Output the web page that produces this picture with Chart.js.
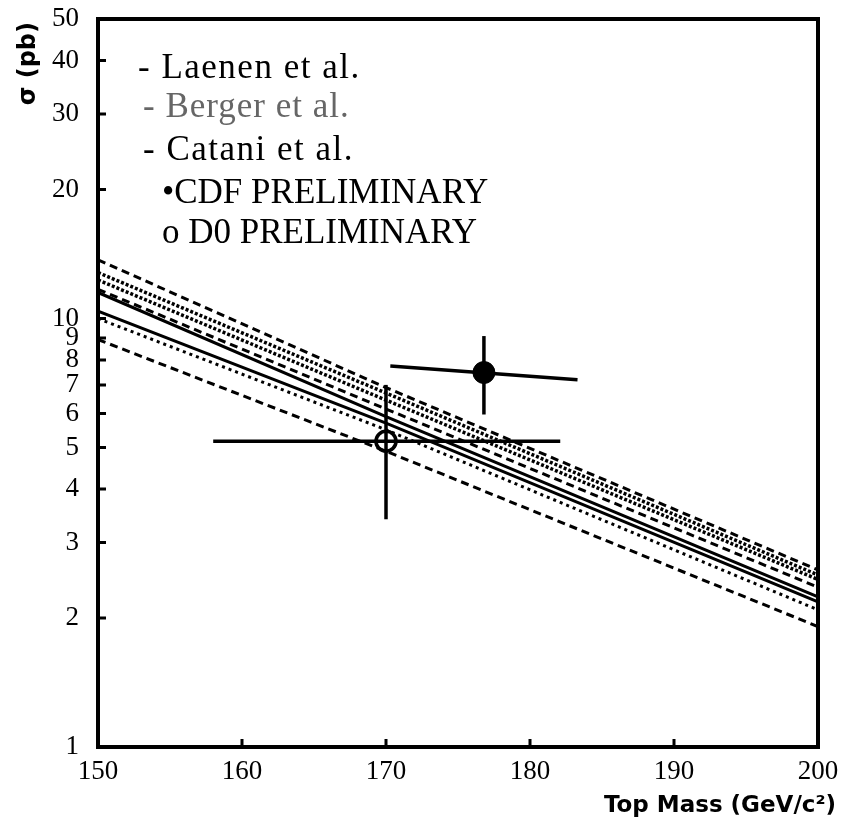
<!DOCTYPE html>
<html>
<head>
<meta charset="utf-8">
<script src="https://cdn.jsdelivr.net/npm/chart.js@4.4.1/dist/chart.umd.min.js"></script>
<style>
  html, body { margin: 0; padding: 0; background: #fff; }
  #wrap { width: 844px; height: 821px; }
</style>
</head>
<body>
<div id="wrap"><canvas id="xsec_chart" width="844" height="821"></canvas></div>
<script>
// top mass points where the theory curves were read
let masses = [150, 170, 200];

// theory curves (pb)
let laenenHi = [13.7, 6.9, 2.59];
let laenenMid = [11.7, 6.15, 2.36];
let laenenLo = [8.93, 4.9, 1.91];
let bergerHi = [12.8, 6.7, 2.52];
let bergerMid = [12.3, 6.45, 2.46];
let bergerLo = [10.0, 5.5, 2.09];
let cataniHi = [11.5, 5.9, 2.24];
let cataniLo = [10.4, 5.7, 2.18];

// measurements: [mass, sigma]
let cdfPoint = [176.8, 7.48];
let cdfMassBar = [[170.3, 7.75], [183.3, 7.2]];
let cdfSigmaBar = [5.97, 9.1];
let d0Point = [170.0, 5.17];
let d0MassBar = [158.0, 182.1];
let d0SigmaBar = [3.4, 7.0];

let xTicks = [150, 160, 170, 180, 190, 200];
let yTicks = [1, 2, 3, 4, 5, 6, 7, 8, 9, 10, 20, 30, 40, 50];

let legendLines = [
    { text: '- Laenen et al.', dx: 40, y: 78, color: '#000', spacing: 1.5 },
    { text: '- Berger et al.', dx: 45, y: 117, color: '#666', spacing: 1 },
    { text: '- Catani et al.', dx: 45, y: 160, color: '#000', spacing: 1.5 },
    { text: '\u2022CDF PRELIMINARY', dx: 64, y: 203, color: '#000', spacing: 0 },
    { text: 'o D0 PRELIMINARY', dx: 64, y: 243, color: '#000', spacing: 0 }
];

function toPoints(arr) {
    return masses.map(function (m, i) { return { x: m, y: arr[i] }; });
}

function curve(arr, dash, width) {
    return {
        data: toPoints(arr),
        borderColor: '#000',
        borderWidth: width,
        borderDash: dash,
        pointRadius: 0,
        tension: 0,
        fill: false
    };
}

function bar(points) {
    return {
        data: points,
        borderColor: '#000',
        borderWidth: 3.5,
        pointRadius: 0,
        fill: false
    };
}

//=======================================================//
let frameAndText = {
    id: 'frameAndText',
    afterDraw: function (chart) {
        let ctx = chart.ctx;
        let a = chart.chartArea;
        let xs = chart.scales.x;
        let ys = chart.scales.y;
        ctx.save();

        // frame
        ctx.strokeStyle = '#000';
        ctx.lineWidth = 4;
        ctx.strokeRect(a.left, a.top, a.right - a.left, a.bottom - a.top);

        // inward ticks
        ctx.lineWidth = 3;
        ctx.beginPath();
        yTicks.forEach(function (v) {
            if (v === 1 || v === 50) return;
            let py = ys.getPixelForValue(v);
            ctx.moveTo(a.left, py);
            ctx.lineTo(a.left + 8, py);
        });
        xTicks.forEach(function (v) {
            if (v === 150 || v === 200) return;
            let px = xs.getPixelForValue(v);
            ctx.moveTo(px, a.bottom);
            ctx.lineTo(px, a.bottom - 8);
        });
        ctx.stroke();

        // legend
        ctx.font = '35px "Liberation Serif"';
        ctx.textBaseline = 'alphabetic';
        ctx.textAlign = 'left';
        legendLines.forEach(function (l) {
            ctx.fillStyle = l.color;
            ctx.letterSpacing = l.spacing + 'px';
            ctx.fillText(l.text, a.left + l.dx, l.y);
        });
        ctx.letterSpacing = '0px';

        // axis titles
        ctx.fillStyle = '#000';
        ctx.font = 'bold 23px "DejaVu Sans"';
        ctx.textAlign = 'right';
        ctx.fillText('Top Mass (GeV/c\u00b2)', 836, 812);

        ctx.translate(35, 22);
        ctx.rotate(-Math.PI / 2);
        ctx.textAlign = 'right';
        ctx.font = 'bold 24px "DejaVu Sans"';
        ctx.fillText('\u03c3 (pb)', 0, 0);
        ctx.restore();
    }
};

function showCrossSection() {
    let ctx = document.getElementById('xsec_chart').getContext('2d');

    let datasets = [
        curve(laenenHi, [8, 5], 3),
        curve(laenenMid, [8, 5], 3),
        curve(laenenLo, [8, 5], 3),
        curve(bergerHi, [3, 2], 3.5),
        curve(bergerMid, [3, 2], 3.5),
        curve(bergerLo, [3, 4], 3),
        curve(cataniHi, [], 3),
        curve(cataniLo, [], 3),
        bar(cdfMassBar.map(function (p) { return { x: p[0], y: p[1] }; })),
        bar(cdfSigmaBar.map(function (s) { return { x: cdfPoint[0], y: s }; })),
        bar(d0MassBar.map(function (m) { return { x: m, y: d0Point[1] }; })),
        bar(d0SigmaBar.map(function (s) { return { x: d0Point[0], y: s }; })),
        {
            data: [{ x: cdfPoint[0], y: cdfPoint[1] }],
            showLine: false,
            pointRadius: 11,
            pointBackgroundColor: '#000',
            pointBorderColor: '#000',
            pointBorderWidth: 1
        },
        {
            data: [{ x: d0Point[0], y: d0Point[1] }],
            showLine: false,
            pointRadius: 10,
            pointBackgroundColor: 'rgba(0,0,0,0)',
            pointBorderColor: '#000',
            pointBorderWidth: 3.5
        }
    ];

    new Chart(ctx, {
        type: 'line',
        data: { datasets: datasets },
        options: {
            responsive: false,
            animation: false,
            layout: { padding: { top: 19, right: 26, left: 0, bottom: 0 } },
            plugins: {
                legend: { display: false },
                tooltip: { enabled: false }
            },
            scales: {
                x: {
                    type: 'linear',
                    min: 150,
                    max: 200,
                    afterBuildTicks: function (s) {
                        s.ticks = xTicks.map(function (v) { return { value: v }; });
                    },
                    afterFit: function (s) {
                        s.height = 74;
                        s.paddingLeft = 0;
                        s.paddingRight = 0;
                    },
                    grid: { display: false, drawTicks: false },
                    border: { display: false },
                    ticks: {
                        autoSkip: false,
                        maxRotation: 0,
                        padding: 9,
                        color: '#000',
                        font: { family: 'Liberation Serif', size: 27 }
                    }
                },
                y: {
                    type: 'logarithmic',
                    min: 1,
                    max: 50,
                    afterBuildTicks: function (s) {
                        s.ticks = yTicks.map(function (v) { return { value: v }; });
                    },
                    afterFit: function (s) {
                        s.width = 98;
                        s.paddingTop = 0;
                        s.paddingBottom = 0;
                    },
                    grid: { display: false, drawTicks: false },
                    border: { display: false },
                    ticks: {
                        autoSkip: false,
                        padding: 19,
                        color: '#000',
                        font: { family: 'Liberation Serif', size: 27 },
                        callback: function (v) { return String(v); }
                    }
                }
            }
        },
        plugins: [frameAndText]
    });
}

showCrossSection();
</script>
</body>
</html>
